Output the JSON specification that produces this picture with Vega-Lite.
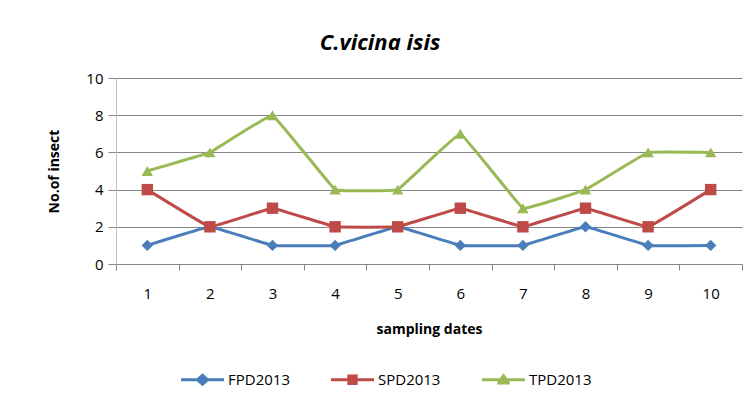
{
  "$schema": "https://vega.github.io/schema/vega-lite/v6.json",
  "autosize": {"type": "none"},
  "padding": {"left": 116, "top": 78, "right": 13, "bottom": 140},
  "width": 626,
  "height": 186,
  "background": "white",
  "title": {"text": "C.vicina isis", "font": "Open Sans", "fontSize": 22, "fontWeight": "bold", "fontStyle": "italic", "color": "#000000", "dx": -49, "offset": 16},
  "data": {"values": [
    {"date": "1", "series": "FPD2013", "value": 1}, {"date": "2", "series": "FPD2013", "value": 2}, {"date": "3", "series": "FPD2013", "value": 1}, {"date": "4", "series": "FPD2013", "value": 1}, {"date": "5", "series": "FPD2013", "value": 2}, {"date": "6", "series": "FPD2013", "value": 1}, {"date": "7", "series": "FPD2013", "value": 1}, {"date": "8", "series": "FPD2013", "value": 2}, {"date": "9", "series": "FPD2013", "value": 1}, {"date": "10", "series": "FPD2013", "value": 1},
    {"date": "1", "series": "SPD2013", "value": 4}, {"date": "2", "series": "SPD2013", "value": 2}, {"date": "3", "series": "SPD2013", "value": 3}, {"date": "4", "series": "SPD2013", "value": 2}, {"date": "5", "series": "SPD2013", "value": 2}, {"date": "6", "series": "SPD2013", "value": 3}, {"date": "7", "series": "SPD2013", "value": 2}, {"date": "8", "series": "SPD2013", "value": 3}, {"date": "9", "series": "SPD2013", "value": 2}, {"date": "10", "series": "SPD2013", "value": 4},
    {"date": "1", "series": "TPD2013", "value": 5}, {"date": "2", "series": "TPD2013", "value": 6}, {"date": "3", "series": "TPD2013", "value": 8}, {"date": "4", "series": "TPD2013", "value": 4}, {"date": "5", "series": "TPD2013", "value": 4}, {"date": "6", "series": "TPD2013", "value": 7}, {"date": "7", "series": "TPD2013", "value": 3}, {"date": "8", "series": "TPD2013", "value": 4}, {"date": "9", "series": "TPD2013", "value": 6}, {"date": "10", "series": "TPD2013", "value": 6}
  ]},
  "encoding": {
    "x": {"field": "date", "type": "ordinal", "sort": null,
      "scale": {"type": "band", "paddingInner": 0, "paddingOuter": 0},
      "axis": {"title": "sampling dates", "labelAngle": 0, "tickBand": "extent", "grid": false, "domainColor": "#868686", "tickColor": "#868686", "tickSize": 6, "labelPadding": 16, "labelFontSize": 15, "labelFont": "Open Sans", "labelColor": "#000000", "titleFont": "Open Sans", "titleFontSize": 14, "titleFontWeight": "bold", "titleColor": "#000000", "titlePadding": 21}},
    "y": {"field": "value", "type": "quantitative",
      "scale": {"domain": [0, 10], "nice": false},
      "axis": {"title": "No.of insect", "values": [0, 2, 4, 6, 8, 10], "grid": true, "gridColor": "#868686", "domainColor": "#BFBFBF", "tickColor": "#868686", "tickSize": 8, "labelPadding": 5, "labelFontSize": 15, "labelFont": "Open Sans", "labelColor": "#000000", "titleFont": "Open Sans", "titleFontSize": 14, "titleFontWeight": "bold", "titleColor": "#000000", "titlePadding": 24}}
  },
  "layer": [
    {"mark": {"type": "line", "strokeWidth": 3, "interpolate": "cardinal", "tension": 0.85},
      "encoding": {"color": {"field": "series", "type": "nominal", "scale": {"domain": ["FPD2013", "SPD2013", "TPD2013"], "range": ["#4A7EBB", "#BE4B48", "#98B954"]}, "legend": null}}},
    {"mark": {"type": "point", "filled": true, "opacity": 1, "size": 130},
      "encoding": {
        "color": {"field": "series", "type": "nominal", "scale": {"domain": ["FPD2013", "SPD2013", "TPD2013"], "range": ["#4A7EBB", "#BE4B48", "#98B954"]}, "legend": null},
        "shape": {"field": "series", "type": "nominal", "scale": {"domain": ["FPD2013", "SPD2013", "TPD2013"], "range": ["diamond", "square", "triangle-up"]}, "legend": null}}},
    {"mark": {"type": "point", "filled": true, "opacity": 0, "size": 10},
      "encoding": {
        "fill": {"field": "series", "type": "nominal", "scale": {"domain": ["FPD2013", "SPD2013", "TPD2013"], "range": ["#4A7EBB", "#BE4B48", "#98B954"]},
          "legend": {"title": null, "orient": "none", "legendX": 65, "legendY": 280, "direction": "horizontal", "symbolSize": 1849, "symbolOpacity": 1, "symbolStrokeWidth": 0, "labelFont": "Open Sans", "labelFontSize": 15, "labelColor": "#000000", "labelOffset": 4, "columnPadding": 41}},
        "shape": {"field": "series", "type": "nominal", "scale": {"domain": ["FPD2013", "SPD2013", "TPD2013"], "range": [
        "M-1,-0.07H-0.26L0,-0.3L0.26,-0.07H1V0.07H0.26L0,0.3L-0.26,0.07H-1Z",
        "M-1,-0.07H-0.24V-0.24H0.24V-0.07H1V0.07H0.24V0.24H-0.24V0.07H-1Z",
        "M-1,-0.07H-0.17L0,-0.3L0.17,-0.07H1V0.07H0.28L0.3,0.22H-0.3L-0.28,0.07H-1Z"]},
        "legend": {"title": null, "orient": "none", "legendX": 65, "legendY": 280, "direction": "horizontal", "symbolSize": 1849, "symbolOpacity": 1, "symbolStrokeWidth": 0, "labelFont": "Open Sans", "labelFontSize": 15, "labelColor": "#000000", "labelOffset": 4, "columnPadding": 41}}}}
  ],
  "resolve": {"scale": {"shape": "independent", "fill": "independent"}, "legend": {"shape": "independent", "fill": "independent"}},
  "config": {"view": {"stroke": null}, "axis": {"domainWidth": 1}}
}
